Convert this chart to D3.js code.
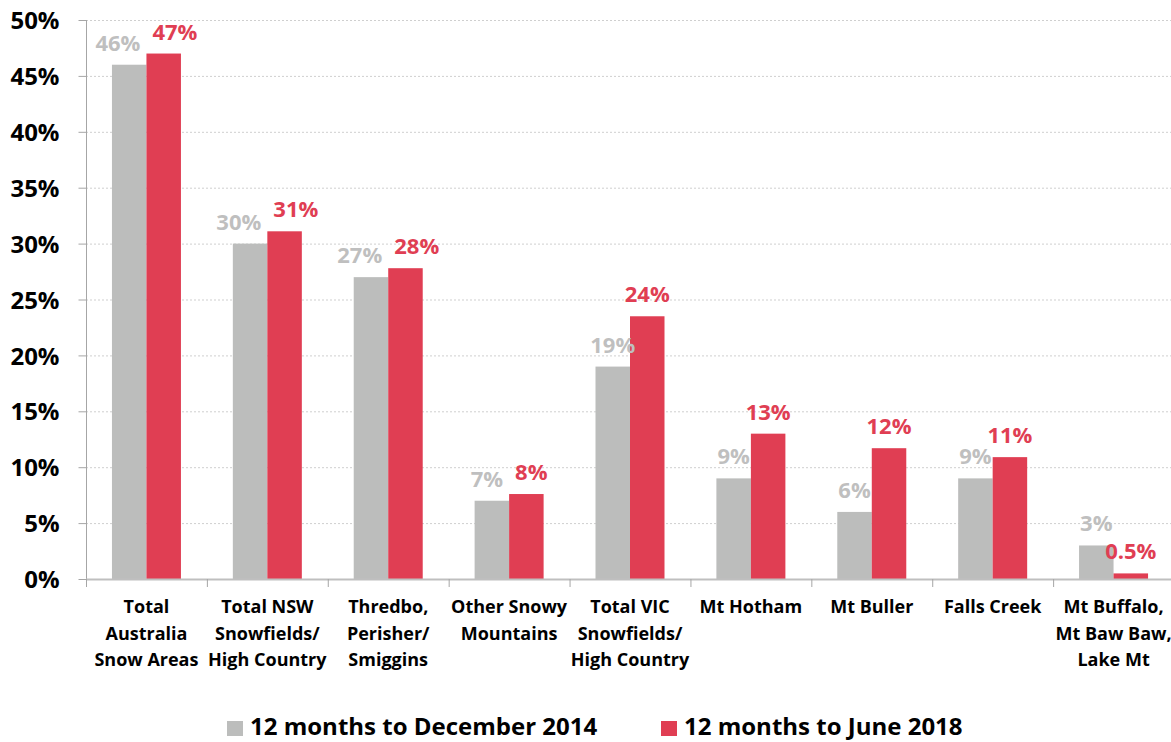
<!DOCTYPE html>
<html>
<head>
<meta charset="utf-8">
<script src="https://cdn.jsdelivr.net/npm/d3@7"></script>
<style>
  body { margin: 0; background: #fff; }
  svg { display: block; overflow: hidden; font-family: "Open Sans", Lato, sans-serif; font-weight: bold; }
</style>
</head>
<body>
<script>
// categories (lines of each x label)
var categories = [
  ["Total", "Australia", "Snow Areas"],
  ["Total NSW", "Snowfields/", "High Country"],
  ["Thredbo,", "Perisher/", "Smiggins"],
  ["Other Snowy", "Mountains"],
  ["Total VIC", "Snowfields/", "High Country"],
  ["Mt Hotham"],
  ["Mt Buller"],
  ["Falls Creek"],
  ["Mt Buffalo,", "Mt Baw Baw,", "Lake Mt"]
];
var seriesNames = ["12 months to December 2014", "12 months to June 2018"];
var dec2014 = [46, 30, 27, 7, 19, 9, 6, 9, 3];
var jun2018 = [47, 31.1, 27.8, 7.6, 23.5, 13, 11.7, 10.9, 0.5];
var dec2014Labels = ["46%", "30%", "27%", "7%", "19%", "9%", "6%", "9%", "3%"];
var jun2018Labels = ["47%", "31%", "28%", "8%", "24%", "13%", "12%", "11%", "0.5%"];
var yTicks = [0, 5, 10, 15, 20, 25, 30, 35, 40, 45, 50];

var colors = ["#bcbdbc", "#e03e53"];
var labelColors = ["#bfbfbf", "#e03e53"];

var width = 1171, height = 742;
var plot = {left: 86, right: 1174, top: 20, bottom: 579};

var svg = d3.select("body").append("svg")
  .attr("width", width)
  .attr("height", height);

var keys = categories.map(function(d, i) { return "c" + i; });

var x0 = d3.scaleBand().domain(keys).range([plot.left, plot.right]).padding(0);
var x1 = d3.scaleBand().domain([0, 1]).range([0, x0.bandwidth()]).paddingInner(0).paddingOuter(0.752);
var y = d3.scaleLinear().domain([0, 50]).range([plot.bottom, plot.top]);

// gridlines
svg.append("g").selectAll("line")
  .data(yTicks.filter(function(t) { return t > 0; }))
  .enter().append("line")
  .attr("x1", plot.left).attr("x2", width)
  .attr("y1", function(d) { return y(d) + 0.5; })
  .attr("y2", function(d) { return y(d) + 0.5; })
  .attr("stroke", "#cfcfcf")
  .attr("stroke-dasharray", "2,2");

// y axis
var yAxis = d3.axisLeft(y).tickValues(yTicks).tickSize(8).tickPadding(19)
  .tickFormat(function(d) { return d + "%"; });
var yg = svg.append("g").attr("transform", "translate(" + (plot.left + 0.5) + ",0)").call(yAxis);
yg.select(".domain").attr("stroke", "#a6a6a6").attr("d", "M0," + plot.top + "V" + plot.bottom);
yg.selectAll(".tick line").attr("stroke", "#a6a6a6");
yg.selectAll(".tick text").attr("fill", "#000").style("font-size", "24px")
  .style("font-family", "'Open Sans', sans-serif").attr("dy", "0.36em");

// bars
var series = [dec2014, jun2018];
var seriesLabels = [dec2014Labels, jun2018Labels];
series.forEach(function(vals, s) {
  svg.append("g").selectAll("rect")
    .data(vals)
    .enter().append("rect")
    .attr("x", function(d, i) { return x0(keys[i]) + x1(s); })
    .attr("width", x1.bandwidth())
    .attr("y", function(d) { return y(d); })
    .attr("height", function(d) { return plot.bottom - y(d); })
    .attr("fill", colors[s]);
});

// x axis line and ticks
svg.append("line")
  .attr("x1", plot.left).attr("x2", width)
  .attr("y1", plot.bottom + 0.5).attr("y2", plot.bottom + 0.5)
  .attr("stroke", "#bfbfbf").attr("stroke-width", 2);
svg.append("g").selectAll("line")
  .data(keys)
  .enter().append("line")
  .attr("x1", function(d) { return x0(d) + 0.5; })
  .attr("x2", function(d) { return x0(d) + 0.5; })
  .attr("y1", plot.bottom).attr("y2", plot.bottom + 8)
  .attr("stroke", "#a6a6a6");

// category labels
var cat = svg.append("g").selectAll("text")
  .data(categories)
  .enter().append("text")
  .attr("text-anchor", "middle")
  .attr("x", function(d, i) { return x0(keys[i]) + x0.bandwidth() / 2; })
  .attr("y", 613)
  .style("font-size", "18px")
  .attr("fill", "#000");
cat.selectAll("tspan")
  .data(function(d) { return d; })
  .enter().append("tspan")
  .attr("x", function() { return d3.select(this.parentNode).attr("x"); })
  .attr("dy", function(d, i) { return i === 0 ? 0 : 26.5; })
  .text(function(d) { return d; });

// data labels
var labelNodes = [[], []];
series.forEach(function(vals, s) {
  svg.append("g").selectAll("text")
    .data(vals)
    .enter().append("text")
    .attr("text-anchor", "middle")
    .attr("x", function(d, i) { return x0(keys[i]) + x1(s) + x1.bandwidth() / 2; })
    .attr("y", function(d) { return y(d) - 14; })
    .attr("fill", labelColors[s])
    .style("font-size", "22px")
    .text(function(d, i) { return seriesLabels[s][i]; })
    .each(function() { labelNodes[s].push(this); });
});
// push overlapping label pairs apart
categories.forEach(function(c, i) {
  var a = labelNodes[0][i], b = labelNodes[1][i];
  var ya = +a.getAttribute("y"), yb = +b.getAttribute("y");
  if (Math.abs(ya - yb) > 20) return;
  var wa = a.getComputedTextLength(), wb = b.getComputedTextLength();
  var xa = +a.getAttribute("x"), xb = +b.getAttribute("x");
  var gap = (xb - wb / 2) - (xa + wa / 2);
  var need = 12 - gap;
  if (need > 0) {
    a.setAttribute("x", xa - need / 2);
    b.setAttribute("x", xb + need / 2);
  }
});

// legend
var legendX = [227, 661];
seriesNames.forEach(function(name, s) {
  var g = svg.append("g").attr("transform", "translate(" + legendX[s] + ",721)");
  g.append("rect").attr("width", 16).attr("height", 15).attr("fill", colors[s]);
  g.append("text").attr("x", 23).attr("y", 14)
    .style("font-size", "24px").attr("fill", "#000").text(name);
});
</script>
</body>
</html>
